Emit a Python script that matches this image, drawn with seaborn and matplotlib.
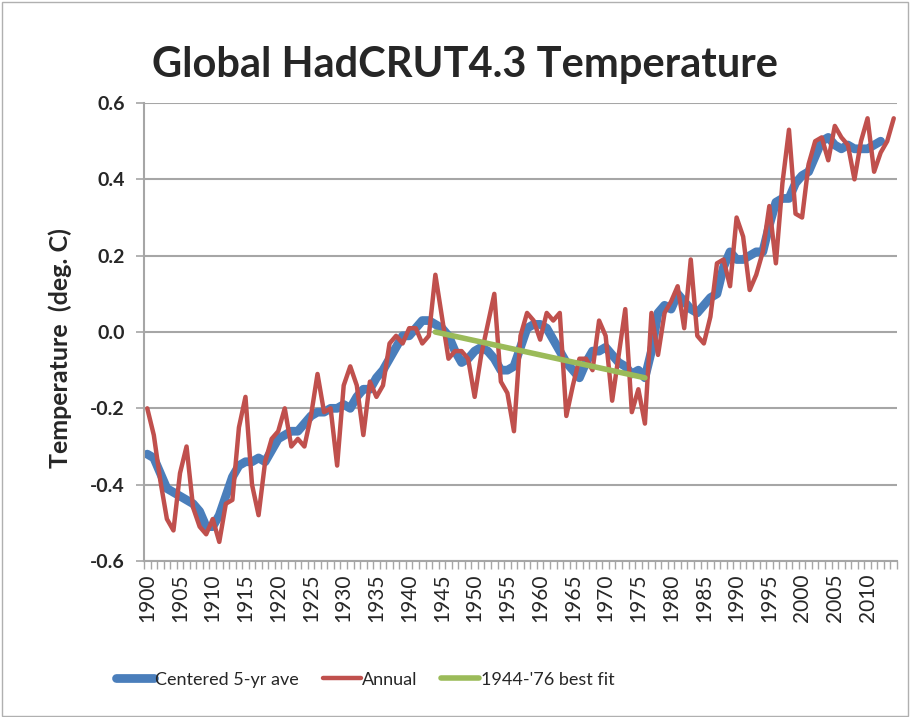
import numpy as np
import pandas as pd
import matplotlib
matplotlib.use("Agg")
import matplotlib.pyplot as plt
import seaborn as sns

years = list(range(1900, 2015))

annual = [
    -0.20, -0.27, -0.39, -0.49, -0.52, -0.37, -0.30, -0.46, -0.51, -0.53,
    -0.49, -0.55, -0.45, -0.44, -0.25, -0.17, -0.40, -0.48, -0.34, -0.28,
    -0.26, -0.20, -0.30, -0.28, -0.30, -0.22, -0.11, -0.21, -0.20, -0.35,
    -0.14, -0.09, -0.14, -0.27, -0.13, -0.17, -0.14, -0.03, -0.01, -0.03,
    0.01, 0.01, -0.03, -0.01, 0.15, 0.04, -0.07, -0.05, -0.05, -0.07,
    -0.17, -0.06, 0.02, 0.10, -0.13, -0.16, -0.26, -0.01, 0.05, 0.03,
    -0.02, 0.05, 0.03, 0.05, -0.22, -0.14, -0.07, -0.07, -0.10, 0.03,
    -0.01, -0.18, -0.06, 0.06, -0.21, -0.15, -0.24, 0.05, -0.06, 0.05,
    0.08, 0.12, 0.01, 0.19, -0.01, -0.03, 0.04, 0.18, 0.19, 0.12,
    0.30, 0.25, 0.11, 0.15, 0.21, 0.33, 0.18, 0.39, 0.53, 0.31,
    0.30, 0.44, 0.50, 0.51, 0.45, 0.54, 0.51, 0.49, 0.40, 0.50,
    0.56, 0.42, 0.47, 0.50, 0.56,
]

# centered 5-yr average (1900-2012)
ave5 = [
    -0.32, -0.33, -0.37, -0.41, -0.42, -0.43, -0.44, -0.45, -0.47, -0.51,
    -0.51, -0.48, -0.43, -0.38, -0.35, -0.34, -0.34, -0.33, -0.34, -0.31,
    -0.28, -0.27, -0.26, -0.26, -0.24, -0.22, -0.21, -0.21, -0.20, -0.20,
    -0.19, -0.20, -0.17, -0.15, -0.15, -0.12, -0.10, -0.07, -0.04, -0.01,
    -0.01, 0.01, 0.03, 0.03, 0.02, 0.01, -0.01, -0.05, -0.08, -0.07,
    -0.05, -0.04, -0.05, -0.07, -0.10, -0.10, -0.09, -0.04, 0.01, 0.02,
    0.02, 0.01, -0.02, -0.05, -0.08, -0.10, -0.12, -0.08, -0.05, -0.05,
    -0.04, -0.06, -0.08, -0.09, -0.11, -0.10, -0.12, -0.05, 0.05, 0.07,
    0.06, 0.10, 0.08, 0.06, 0.05, 0.07, 0.09, 0.10, 0.17, 0.21,
    0.19, 0.19, 0.20, 0.21, 0.21, 0.28, 0.34, 0.35, 0.35, 0.39,
    0.41, 0.42, 0.46, 0.50, 0.51, 0.49, 0.48, 0.49, 0.48, 0.48,
    0.48, 0.49, 0.50,
]

fit_years = [1944, 1976]
fit_vals = [0.00, -0.12]

label_years = list(range(1900, 2015, 5))

BLUE = "#4a7ebb"
RED = "#c0504d"
GREEN = "#9bbb59"
GRID = "#a6a6a6"

sns.set_style("white")
plt.rcParams["font.family"] = ["Lato", "DejaVu Sans"]

df_ann = pd.DataFrame({"year": years, "temp": annual})
df_ave = pd.DataFrame({"year": years[:len(ave5)], "temp": ave5})
df_fit = pd.DataFrame({"year": fit_years, "temp": fit_vals})

fig = plt.figure(figsize=(9.13, 7.17), dpi=100)
ax = fig.add_axes([0.1577, 0.2176, 0.8248, 0.6387])

sns.lineplot(data=df_ave, x="year", y="temp", ax=ax, color=BLUE, lw=6.3,
             label="Centered 5-yr ave", solid_capstyle="round")
sns.lineplot(data=df_ann, x="year", y="temp", ax=ax, color=RED, lw=3.2,
             label="Annual")
sns.lineplot(data=df_fit, x="year", y="temp", ax=ax, color=GREEN, lw=4,
             label="1944-'76 best fit", solid_capstyle="round")

ax.set_xlim(1899.5, 2014.5)
ax.set_ylim(-0.6, 0.6)
ax.set_yticks(np.arange(-0.6, 0.61, 0.2))
ax.set_yticklabels([f"{v:.1f}" for v in np.arange(-0.6, 0.61, 0.2)],
                   fontsize=14, fontweight="bold")
ax.yaxis.grid(True, color=GRID, lw=1.5)
ax.tick_params(axis="y", length=6, width=1.2, color=GRID, pad=8, left=True)

ax.set_xticks(label_years)
ax.set_xticklabels([str(y) for y in label_years], rotation=90, fontsize=15)
ax.set_xticks(np.arange(1899.5, 2015, 1), minor=True)
ax.tick_params(axis="x", which="major", length=0, pad=9)
ax.tick_params(axis="x", which="minor", length=6, width=1, color=GRID,
               bottom=True)

for side in ["top", "right"]:
    ax.spines[side].set_visible(False)
for side in ["left", "bottom"]:
    ax.spines[side].set_color(GRID)
    ax.spines[side].set_linewidth(1.5)

ax.set_xlabel("")
ax.set_ylabel("")
fig.text(0.066, 0.515, "Temperature  (deg. C)", rotation=90, ha="center",
         va="center", fontsize=18, fontweight="bold")
fig.text(0.509, 0.909, "Global HadCRUT4.3 Temperature", ha="center",
         va="center", fontsize=30, fontweight="bold")

handles, labels = ax.get_legend_handles_labels()
ax.get_legend().remove()
fig.legend(handles, labels, loc="center", bbox_to_anchor=(0.40, 0.052),
           ncol=3, frameon=False, fontsize=13, handlelength=2.1,
           handletextpad=0.1, columnspacing=1.3)

fig.patches.append(plt.Rectangle((0.002, 0.002), 0.993, 0.995,
                                 transform=fig.transFigure, fill=False,
                                 edgecolor="#b0b0b0", lw=1))

fig.savefig("out.png", dpi=100)
